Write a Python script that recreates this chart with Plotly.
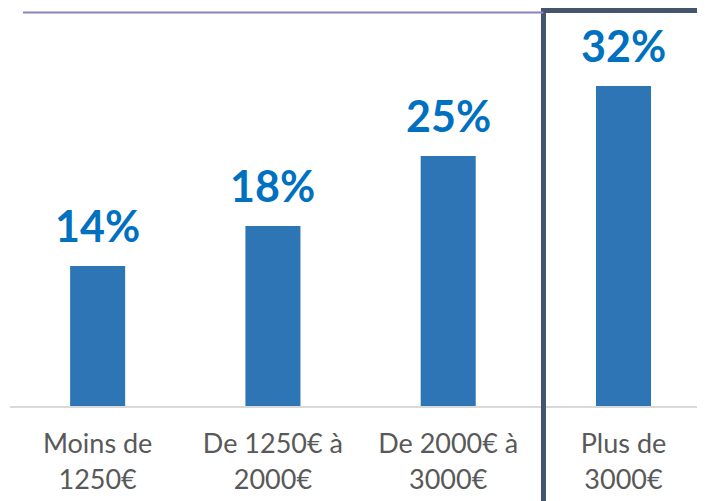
import plotly.graph_objects as go

categories = ["Moins de<br>1250€", "De 1250€ à<br>2000€", "De 2000€ à<br>3000€", "Plus de<br>3000€"]
values = [14, 18, 25, 32]
labels = ["14%", "18%", "25%", "32%"]

fig = go.Figure(
    go.Bar(
        x=categories,
        y=values,
        marker=dict(color="#2E75B6", line=dict(width=0)),
        width=0.314,
        hoverinfo="skip",
    )
)

# value labels above the bars
for cat, val, lab in zip(categories, values, labels):
    fig.add_annotation(
        x=cat,
        y=val,
        text=lab,
        showarrow=False,
        yanchor="middle",
        yshift=41,
        font=dict(family="Lato", size=43, color="#0070C0", weight="bold"),
    )

# highlight frame around the last category
fig.add_shape(
    type="path",
    xref="paper",
    yref="paper",
    path="M 0.7676 -1 L 0.7676 0.9937 L 1.2 0.9937",
    line=dict(color="#44546A", width=5),
)
# thin line at the top
fig.add_shape(
    type="line",
    xref="paper",
    yref="paper",
    x0=0.0187,
    x1=0.7676,
    y0=0.9887,
    y1=0.9887,
    line=dict(color="#8884BB", width=2),
)

fig.update_layout(
    width=697,
    height=493,
    margin=dict(l=2, r=0, t=0, b=95),
    plot_bgcolor="white",
    paper_bgcolor="white",
    showlegend=False,
    bargap=0.686,
)
fig.update_xaxes(
    range=[-0.5, 3.465],
    showline=True,
    linecolor="#D9D9D9",
    linewidth=2,
    ticks="outside",
    ticklen=13,
    tickcolor="rgba(0,0,0,0)",
    tickfont=dict(family="Lato", size=27, color="#595959"),
    showgrid=False,
)
fig.update_yaxes(range=[0, 39.8], visible=False, showgrid=False)

fig.write_html("out.html")
